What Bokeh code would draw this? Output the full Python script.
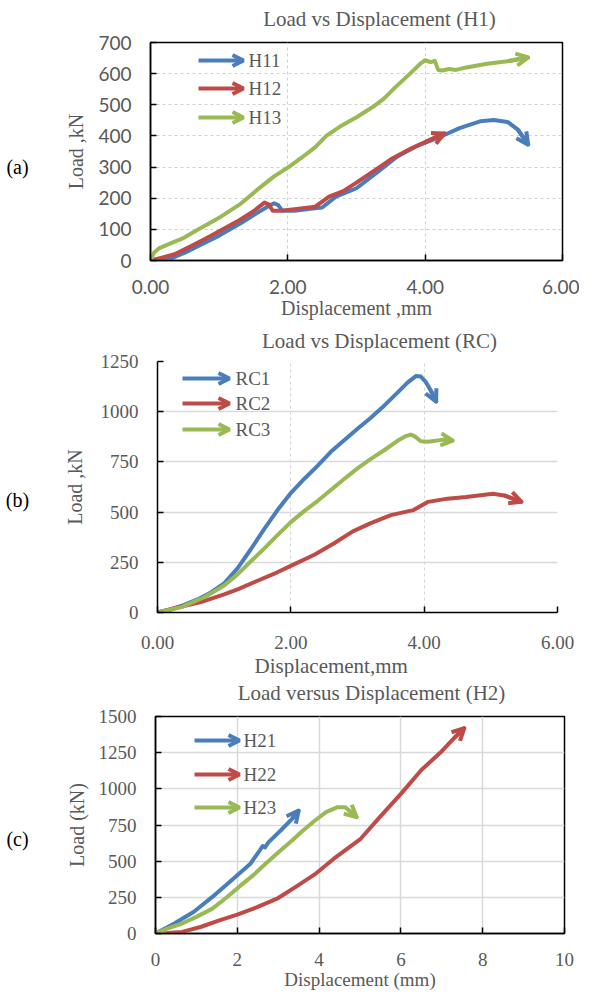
import math
from bokeh.plotting import figure
from bokeh.layouts import column, row
from bokeh.models import (Range1d, FixedTicker, NumeralTickFormatter, Label, Arrow, OpenHead, Title)
from bokeh.embed import file_html
from bokeh.resources import INLINE

# ---------------- data: (a) Load vs Displacement (H1) ----------------
a_x_ticks = [0, 2, 4, 6]
a_y_ticks = [0, 100, 200, 300, 400, 500, 600, 700]
h11_x = [0, 0.25, 0.5, 0.8, 1.0, 1.3, 1.55, 1.72, 1.80, 1.86, 1.92, 2.1, 2.3, 2.5, 2.7, 3.0, 3.3, 3.6, 3.9, 4.2, 4.5, 4.8, 5.0, 5.2, 5.35, 5.5]
h11_y = [0, 2, 25, 58, 80, 118, 152, 175, 184, 178, 160, 160, 165, 170, 205, 232, 283, 335, 370, 395, 425, 447, 451, 445, 420, 372]
h12_x = [0, 0.15, 0.35, 0.6, 0.8, 1.0, 1.3, 1.5, 1.66, 1.72, 1.78, 1.9, 2.1, 2.4, 2.6, 2.8, 3.0, 3.2, 3.5, 3.8, 4.0, 4.28]
h12_y = [0, 8, 20, 47, 70, 94, 130, 158, 186, 180, 160, 160, 165, 173, 205, 222, 250, 280, 325, 360, 380, 408]
h13_x = [0, 0.05, 0.13, 0.3, 0.46, 0.7, 1.02, 1.3, 1.57, 1.8, 2.01, 2.2, 2.4, 2.56, 2.78, 3.0, 3.23, 3.4, 3.56, 3.78, 3.94, 4.0, 4.08, 4.14, 4.19, 4.25, 4.35, 4.45, 4.6, 4.9, 5.2, 5.5]
h13_y = [0, 25, 40, 56, 70, 100, 140, 180, 230, 270, 300, 330, 364, 400, 433, 460, 492, 520, 555, 600, 634, 643, 637, 641, 612, 610, 615, 612, 620, 632, 640, 652]

# ---------------- data: (b) Load vs Displacement (RC) ----------------
b_x_ticks = [0, 2, 4, 6]
b_y_ticks = [0, 250, 500, 750, 1000, 1250]
rc1_x = [0, 0.2, 0.4, 0.6, 0.8, 1.0, 1.2, 1.4, 1.6, 1.8, 2.0, 2.2, 2.4, 2.6, 2.8, 3.0, 3.2, 3.4, 3.6, 3.75, 3.88, 3.95, 4.02, 4.1, 4.18]
rc1_y = [0, 15, 38, 65, 100, 145, 220, 315, 415, 510, 595, 665, 730, 800, 858, 915, 970, 1030, 1095, 1145, 1178, 1175, 1150, 1105, 1050]
rc2_x = [0, 0.3, 0.65, 1.0, 1.22, 1.5, 1.79, 2.0, 2.36, 2.65, 2.93, 3.2, 3.5, 3.84, 4.06, 4.35, 4.63, 5.03, 5.2, 5.46]
rc2_y = [0, 25, 52, 90, 118, 158, 199, 232, 289, 345, 404, 445, 485, 510, 551, 567, 575, 591, 583, 551]
rc3_x = [0, 0.37, 0.71, 1.0, 1.2, 1.4, 1.6, 1.8, 2.0, 2.2, 2.4, 2.6, 2.8, 3.0, 3.2, 3.4, 3.6, 3.72, 3.8, 3.86, 3.95, 4.05, 4.12, 4.29, 4.43]
rc3_y = [0, 28, 77, 134, 190, 255, 318, 385, 450, 505, 555, 610, 665, 718, 765, 808, 855, 878, 886, 877, 853, 850, 853, 861, 856]

# ---------------- data: (c) Load versus Displacement (H2) ----------------
c_x_ticks = [0, 2, 4, 6, 8, 10]
c_y_ticks = [0, 250, 500, 750, 1000, 1250, 1500]
h21_x = [0, 0.46, 0.93, 1.39, 1.86, 2.32, 2.55, 2.62, 2.68, 2.76, 3.06, 3.34, 3.5]
h21_y = [0, 69, 149, 253, 368, 482, 575, 605, 595, 630, 712, 793, 850]
h22_x = [0, 0.3, 0.65, 1.1, 1.58, 2.0, 2.5, 3.0, 3.43, 3.9, 4.36, 5.0, 5.5, 6.0, 6.5, 7.0, 7.3, 7.55]
h22_y = [0, 3, 11, 45, 92, 130, 184, 245, 322, 410, 517, 650, 810, 965, 1130, 1260, 1350, 1420]
h23_x = [0, 0.3, 0.65, 1.0, 1.39, 1.7, 2.04, 2.4, 2.69, 3.0, 3.34, 3.6, 3.9, 4.17, 4.45, 4.64, 4.78, 4.92]
h23_y = [0, 35, 69, 115, 172, 240, 322, 405, 482, 560, 643, 710, 781, 839, 873, 873, 839, 804]

BLUE = "#4A7EBB"
RED = "#BE4B48"
GREEN = "#98B954"
TXT = "#595959"
SERIF = "Liberation Serif"
FULL_W = 579
TAG_W = 40
MAIN_W = FULL_W - TAG_W
X0 = 8 + TAG_W  # page x of the main figure's left edge
LW = 4


def blank_figure(width, height):
    t = figure(width=width, height=height, x_range=Range1d(0, 1), y_range=Range1d(0, 1),
               min_border=0, min_border_left=0, min_border_right=0, min_border_top=0,
               min_border_bottom=0, x_axis_location=None, y_axis_location=None,
               output_backend="svg", toolbar_location=None, title=None)
    t.outline_line_color = None
    t.grid.grid_line_color = None
    t.grid.visible = False
    t.background_fill_color = "white"
    t.border_fill_color = "white"
    return t


def title_figure(height, text, cx, cy_from_top):
    t = blank_figure(FULL_W, height)
    t.add_layout(Label(x=cx - 8, y=height - cy_from_top, x_units="screen", y_units="screen",
                       text=text, text_font=SERIF, text_font_size="21px", text_color=TXT,
                       text_align="center", text_baseline="middle"))
    return t


def tag_figure(height, text, px, py, frame_bottom):
    # its frame is aligned by the row with the main figure's frame
    t = blank_figure(TAG_W, height)
    t.add_layout(Label(x=px - 8, y=frame_bottom - py, x_units="screen", y_units="screen",
                       text=text, text_font=SERIF, text_font_size="20px", text_color="black",
                       text_align="center", text_baseline="middle"))
    return t


def make_panel(page_top, height, fl, fr, ft, fb, xr, yr, xt, yt):
    p = figure(width=MAIN_W, height=height, x_range=Range1d(*xr), y_range=Range1d(*yr),
               min_border_left=fl - X0, min_border_right=(X0 + MAIN_W) - fr,
               min_border_top=ft - page_top, min_border_bottom=page_top + height - fb,
               output_backend="svg", toolbar_location=None, title=None)
    p.xaxis.ticker = FixedTicker(ticks=xt)
    p.yaxis.ticker = FixedTicker(ticks=yt)
    for ax in (p.xaxis, p.yaxis):
        ax.major_tick_in = 6
        ax.major_tick_out = 0
        ax.minor_tick_line_color = None
        ax.axis_line_color = "black"
        ax.axis_line_width = 1.5
        ax.major_tick_line_color = "black"
        ax.major_tick_line_width = 1.5
        ax.major_label_text_color = TXT
        ax.axis_label_text_font = SERIF
        ax.axis_label_text_font_size = "20px"
        ax.axis_label_text_font_style = "normal"
        ax.axis_label_text_color = TXT
    p.background_fill_color = "white"
    p.border_fill_color = "white"

    def lab(text, px, py, size="19px"):
        p.add_layout(Label(x=px - fl, y=fb - py, x_units="screen", y_units="screen",
                           text=text, text_font=SERIF, text_font_size=size, text_color=TXT,
                           text_align="left", text_baseline="middle"))

    def series(xs, ys, color):
        p.line(xs, ys, line_width=LW, line_color=color, line_join="round", line_cap="round")
        p.add_layout(Arrow(x_start=xs[-2], y_start=ys[-2], x_end=xs[-1], y_end=ys[-1],
                           line_color=color, line_width=LW,
                           end=OpenHead(size=12, line_color=color, line_width=LW)))

    def legend_entry(text, color, x0, x1, py, tx):
        p.add_layout(Arrow(x_start=x0 - fl, y_start=fb - py, x_end=x1 - fl, y_end=fb - py,
                           start_units="screen", end_units="screen",
                           line_color=color, line_width=LW,
                           end=OpenHead(size=11, line_color=color, line_width=LW)))
        lab(text, tx, py)

    return p, series, legend_entry


# ---------- panel (a) ----------
TA_TOP, TA_H = 0, 30
title_a = title_figure(TA_H, "Load vs Displacement (H1)", 387, 18 - TA_TOP)
A_TOP, A_H = 30, 295
pa, ser_a, leg_a = make_panel(A_TOP, A_H, 158, 570, 42, 260, (0, 6), (0, 700), a_x_ticks, a_y_ticks)
pa.outline_line_color = "black"
pa.outline_line_width = 1.5
pa.xaxis.formatter = NumeralTickFormatter(format="0.00")
for ax in (pa.xaxis, pa.yaxis):
    ax.major_label_text_font = "Lato"
    ax.major_label_text_font_size = "19px"
pa.xaxis.major_label_standoff = 19
pa.yaxis.major_label_standoff = 19
pa.yaxis.axis_label = "Load ,kN"
pa.yaxis.axis_label_standoff = 8
pa.xaxis.axis_label = "Displacement ,mm"
pa.xaxis.axis_label_standoff = 0
for g in (pa.xgrid, pa.ygrid):
    g.grid_line_color = "#cfcfcf"
    g.grid_line_dash = "3 3"
    g.grid_line_width = 1
ser_a(h11_x, h11_y, BLUE)
ser_a(h12_x, h12_y, RED)
ser_a(h13_x, h13_y, GREEN)
leg_a("H11", BLUE, 206, 251, 60, 256)
leg_a("H12", RED, 206, 251, 88, 256)
leg_a("H13", GREEN, 206, 251, 117, 256)
ta = tag_figure(A_H, "(a)", 25, 166, 260)

# ---------- panel (b) ----------
TB_TOP, TB_H = 325, 27
title_b = title_figure(TB_H, "Load vs Displacement (RC)", 387, 340 - TB_TOP)
B_TOP, B_H = 352, 325
pb, ser_b, leg_b = make_panel(B_TOP, B_H, 165, 565, 361, 616, (0, 6), (0, 1250), b_x_ticks, b_y_ticks)
pb.outline_line_color = None
pb.xaxis.formatter = NumeralTickFormatter(format="0.00")
for ax in (pb.xaxis, pb.yaxis):
    ax.major_label_text_font = SERIF
    ax.major_label_text_font_size = "19px"
pb.xaxis.major_label_standoff = 23
pb.yaxis.major_label_standoff = 19
pb.yaxis.axis_label = "Load ,kN"
pb.yaxis.axis_label_standoff = 12
pb.xgrid.grid_line_color = "#d4d4d4"
pb.xgrid.grid_line_dash = "3 3"
pb.xgrid.grid_line_width = 1
pb.ygrid.grid_line_color = "#d9d9d9"
pb.ygrid.grid_line_width = 1.5
ser_b(rc1_x, rc1_y, BLUE)
ser_b(rc2_x, rc2_y, RED)
ser_b(rc3_x, rc3_y, GREEN)
leg_b("RC1", BLUE, 190, 237, 382, 243)
leg_b("RC2", RED, 190, 237, 407, 243)
leg_b("RC3", GREEN, 190, 237, 433, 243)
pb.add_layout(Title(text="Displacement,mm", align="left", offset=97, standoff=0,
                    text_font=SERIF, text_font_size="21px", text_font_style="normal",
                    text_color=TXT), "below")
tb = tag_figure(B_H, "(b)", 25, 503, 616)

# ---------- panel (c) ----------
TC_TOP, TC_H = 677, 27
title_c = title_figure(TC_H, "Load versus Displacement (H2)", 379, 692 - TC_TOP)
C_TOP, C_H = 704, 289
pc, ser_c, leg_c = make_panel(C_TOP, C_H, 163, 572, 716, 933, (0, 10), (0, 1500), c_x_ticks, c_y_ticks)
pc.outline_line_color = "black"
pc.outline_line_width = 1.5
for ax in (pc.xaxis, pc.yaxis):
    ax.major_label_text_font = SERIF
    ax.major_label_text_font_size = "19px"
pc.xaxis.major_label_standoff = 19
pc.yaxis.major_label_standoff = 19
pc.yaxis.axis_label = "Load (kN)"
pc.yaxis.axis_label_standoff = 8
pc.xaxis.axis_label = "Displacement (mm)"
pc.xaxis.axis_label_text_font_size = "19px"
pc.xaxis.axis_label_standoff = 0
for g in (pc.xgrid, pc.ygrid):
    g.grid_line_color = "#d9d9d9"
    g.grid_line_width = 1.5
ser_c(h21_x, h21_y, BLUE)
ser_c(h22_x, h22_y, RED)
ser_c(h23_x, h23_y, GREEN)
leg_c("H21", BLUE, 202, 247, 740, 251)
leg_c("H22", RED, 202, 247, 774, 251)
leg_c("H23", GREEN, 202, 247, 807, 251)
tc = tag_figure(C_H, "(c)", 25, 838, 933)

layout = column(title_a, row(ta, pa, spacing=0),
                title_b, row(tb, pb, spacing=0),
                title_c, row(tc, pc, spacing=0), spacing=0)
open("out.html", "w").write(file_html(layout, INLINE))
